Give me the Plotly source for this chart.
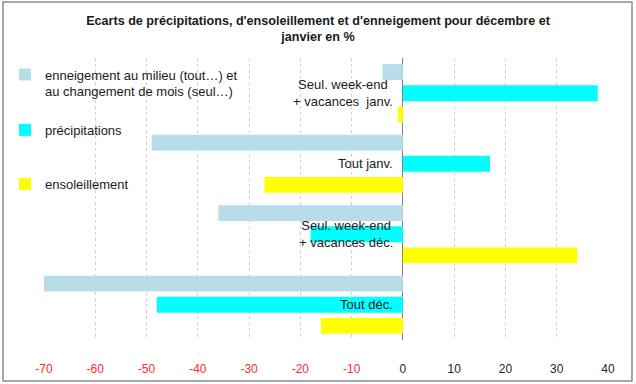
import plotly.graph_objects as go

# Categories, top to bottom
categories = [
    "Seul. week-end<br>+ vacances  janv.",
    "Tout janv.",
    "Seul. week-end<br>+ vacances déc.",
    "Tout déc.",
]
enneigement = [-4, -49, -36, -70]
precipitations = [38, 17, -18, -48]
ensoleillement = [-1, -27, 34, -16]

series_names = [
    "enneigement au milieu (tout…) et<br>au changement de mois (seul…)",
    "précipitations",
    "ensoleillement",
]
series_values = [enneigement, precipitations, ensoleillement]
series_colors = ["#B7DDE8", "#00FFFF", "#FFFF00"]

tick_vals = [-70, -60, -50, -40, -30, -20, -10, 0, 10, 20, 30, 40]
tick_text = [
    (f'<span style="color:#FF2A2A">{v}</span>' if v < 0 else f'<span style="color:#262626">{v}</span>')
    for v in tick_vals
]

FONT = "Liberation Sans, Arial, sans-serif"
W, H = 636, 384

legend_ids = ["legend", "legend2", "legend3"]
legend_y_px = [83, 130, 184]

fig = go.Figure()
for name, vals, col, lid in zip(series_names, series_values, series_colors, legend_ids):
    fig.add_trace(go.Bar(
        y=categories, x=vals, name=name, orientation="h",
        marker=dict(color=col, line=dict(width=0)),
        legend=lid, showlegend=True,
    ))

for c in categories:
    fig.add_annotation(
        x=0, y=c, xref="x", yref="y", text=c, showarrow=False,
        xanchor="right", yanchor="middle", align="center", xshift=-8,
        font=dict(family=FONT, size=13, color="#1a1a1a"),
    )

legend_common = dict(
    xref="container", yref="container", x=5 / W, xanchor="left", yanchor="middle",
    bgcolor="rgba(0,0,0,0)", valign="top", itemwidth=30,
    font=dict(family=FONT, size=13, color="#1a1a1a"),
)
legend_layout = {}
for lid, ypx in zip(legend_ids, legend_y_px):
    legend_layout[lid] = dict(legend_common, y=1 - ypx / H)

fig.update_layout(
    width=W, height=H, showlegend=True,
    margin=dict(l=44, r=28, t=58, b=44, autoexpand=False),
    paper_bgcolor="white", plot_bgcolor="white",
    barmode="group", bargap=0.1, bargroupgap=0.25,
    title=dict(
        text="Ecarts de précipitations, d'ensoleillement et d'enneigement pour décembre et<br>janvier en %",
        x=0.5, xanchor="center", xref="container", yref="container",
        y=1 - 25 / H, yanchor="top",
        font=dict(family=FONT, size=12.6, color="#1a1a1a", weight="bold"),
    ),
    xaxis=dict(
        range=[-70, 40], tickvals=tick_vals, ticktext=tick_text,
        showgrid=True, gridcolor="#D0D0D0", griddash="dot", gridwidth=1,
        zeroline=True, zerolinecolor="#808080", zerolinewidth=1.2,
        showline=False, ticks="", ticklabelstandoff=20,
        tickfont=dict(family=FONT, size=12),
    ),
    yaxis=dict(
        autorange="reversed", showticklabels=False, showgrid=False,
        zeroline=False, showline=False, ticks="",
    ),
    shapes=[dict(
        type="rect", xref="paper", yref="paper",
        x0=(3 - 44) / 564, x1=(632 - 44) / 564,
        y0=(340 - 381) / 282, y1=(340 - 2) / 282,
        line=dict(color="#8C8C8C", width=1.5), fillcolor="rgba(0,0,0,0)", layer="below",
    )],
    **legend_layout,
)

fig.write_html(
    "out.html",
    config={"displayModeBar": False},
    post_script="document.body.style.margin='0px';",
)
